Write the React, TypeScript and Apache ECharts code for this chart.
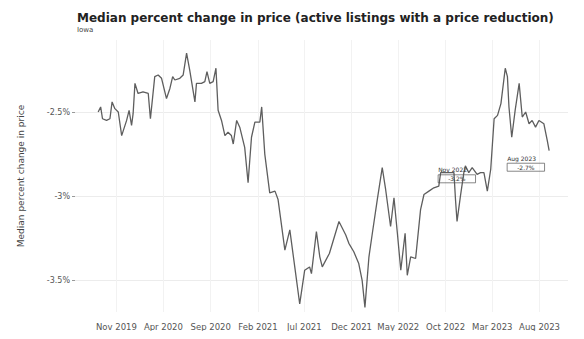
import React, { useEffect, useRef } from "react";
import * as echarts from "echarts";

const titleText = "Median percent change in price (active listings with a price reduction)";
const subtitleText = "Iowa";
const yAxisName = "Median percent change in price";

const dates = [
  "2019-09-03","2019-09-11","2019-09-17","2019-09-30","2019-10-11","2019-10-18","2019-10-27","2019-11-07",
  "2019-11-18","2019-12-04","2019-12-12","2019-12-20","2019-12-25","2019-12-31","2020-01-10","2020-01-26",
  "2020-02-12","2020-02-19","2020-03-04","2020-03-15","2020-03-26","2020-04-11","2020-04-22","2020-05-01",
  "2020-05-08","2020-05-24","2020-06-04","2020-06-15","2020-06-25","2020-07-12","2020-07-17","2020-08-02",
  "2020-08-13","2020-08-20","2020-08-29","2020-09-09","2020-09-18","2020-09-25","2020-10-06","2020-10-17",
  "2020-10-27","2020-11-07","2020-11-13","2020-11-24","2020-12-04","2020-12-20","2020-12-31","2021-01-11",
  "2021-01-22","2021-02-07","2021-02-13","2021-02-23","2021-03-11","2021-03-28","2021-04-07","2021-04-29",
  "2021-05-15","2021-05-31","2021-06-16","2021-07-02","2021-07-18","2021-07-24","2021-08-09","2021-08-20",
  "2021-08-28","2021-09-20","2021-10-21","2021-11-12","2021-11-22","2021-12-08","2021-12-24","2022-01-04",
  "2022-01-13","2022-01-26","2022-02-06","2022-02-22","2022-03-10","2022-03-21","2022-04-06","2022-04-17",
  "2022-04-28","2022-05-09","2022-05-23","2022-05-30","2022-06-10","2022-06-26","2022-07-12","2022-07-23",
  "2022-08-08","2022-08-24","2022-09-09","2022-09-15","2022-10-01","2022-10-17","2022-10-28","2022-11-02",
  "2022-11-07","2022-11-18","2022-11-29","2022-12-04","2022-12-15","2022-12-26","2023-01-11","2023-01-22",
  "2023-02-02","2023-02-13","2023-02-24","2023-03-07","2023-03-18","2023-03-29","2023-04-12","2023-04-19",
  "2023-04-24","2023-05-03","2023-05-14","2023-05-27","2023-06-06","2023-06-17","2023-06-28","2023-07-08",
  "2023-07-19","2023-07-30","2023-08-15","2023-08-26","2023-09-01"
];

const values = [
  -2.50,-2.47,-2.54,-2.55,-2.54,-2.44,-2.48,-2.50,
  -2.64,-2.55,-2.49,-2.58,-2.51,-2.33,-2.39,-2.38,
  -2.39,-2.54,-2.29,-2.28,-2.30,-2.42,-2.36,-2.29,
  -2.31,-2.30,-2.28,-2.15,-2.25,-2.44,-2.33,-2.33,
  -2.32,-2.26,-2.33,-2.32,-2.24,-2.49,-2.55,-2.64,
  -2.62,-2.64,-2.69,-2.55,-2.59,-2.71,-2.92,-2.65,
  -2.56,-2.56,-2.47,-2.75,-2.98,-2.97,-3.02,-3.32,
  -3.20,-3.42,-3.64,-3.44,-3.42,-3.46,-3.21,-3.36,
  -3.42,-3.34,-3.15,-3.23,-3.28,-3.33,-3.40,-3.50,
  -3.66,-3.36,-3.22,-3.02,-2.83,-2.96,-3.18,-3.01,
  -3.22,-3.44,-3.22,-3.47,-3.36,-3.37,-3.08,-2.99,
  -2.97,-2.95,-2.94,-2.86,-2.86,-2.86,-2.86,-3.02,
  -3.15,-3.00,-2.86,-2.82,-2.86,-2.83,-2.87,-2.86,
  -2.86,-2.97,-2.84,-2.54,-2.52,-2.45,-2.24,-2.29,
  -2.47,-2.65,-2.49,-2.33,-2.53,-2.50,-2.57,-2.55,
  -2.59,-2.55,-2.57,-2.67,-2.73
];

const xTickDates = [
  "2019-11-01","2020-04-01","2020-09-01","2021-02-01","2021-07-01",
  "2021-12-01","2022-05-01","2022-10-01","2023-03-01","2023-08-01"
];
const yTickValues = [-3.5, -3, -2.5];

const annotationDates = ["2023-01-11", "2023-09-01"];
const annotationValues = [-2.87, -2.73];
const annotationTitles = ["Nov 2022", "Aug 2023"];
const annotationLabels = ["-3.2%", "-2.7%"];

const monthNames = ["Jan","Feb","Mar","Apr","May","Jun","Jul","Aug","Sep","Oct","Nov","Dec"];

function toTs(s: string): number {
  const [y, m, d] = s.split("-").map(Number);
  return new Date(y, m - 1, d).getTime();
}

export default function App() {
  const ref = useRef<HTMLDivElement>(null);
  useEffect(() => {
    if (!ref.current) return;
    const chart = echarts.init(ref.current, undefined, { renderer: "svg" });
    const data = dates.map((d, i) => [toTs(d), values[i]]);
    const xTicks = xTickDates.map(toTs);
    const labelOffsets = [[-39, -9], [-42, 3]];
    chart.setOption({
      animation: false,
      backgroundColor: "#ffffff",
      title: {
        text: titleText,
        subtext: subtitleText,
        left: 72,
        top: 7,
        itemGap: 2,
        textStyle: { fontFamily: "DejaVu Sans", fontSize: 12, fontWeight: "bold", color: "#222" },
        subtextStyle: { fontFamily: "DejaVu Sans", fontSize: 7, color: "#444" },
      },
      grid: { left: 75, right: 16, top: 40, bottom: 27 },
      xAxis: {
        type: "value",
        min: toTs("2019-06-20"),
        max: toTs("2023-11-01"),
        axisLine: { show: false },
        axisTick: { show: false, customValues: xTicks },
        axisLabel: {
          customValues: xTicks,
          fontFamily: "DejaVu Sans",
          fontSize: 8.5,
          color: "#555",
          margin: 10,
          formatter: (v: number) => {
            const d = new Date(v);
            return monthNames[d.getMonth()] + " " + d.getFullYear();
          },
        },
        splitLine: { show: true, lineStyle: { color: "#f2f2f2", width: 1 } },
      },
      yAxis: {
        type: "value",
        min: -3.6877,
        max: -2.0724,
        name: yAxisName,
        nameLocation: "middle",
        nameGap: 50,
        nameTextStyle: { fontFamily: "DejaVu Sans", fontSize: 9, color: "#444" },
        axisLine: { show: false },
        axisTick: { show: true, length: 3, customValues: yTickValues, lineStyle: { color: "#999" } },
        axisLabel: {
          customValues: yTickValues,
          fontFamily: "DejaVu Sans",
          fontSize: 8,
          color: "#555",
          margin: 5,
          formatter: (v: number) => v + "%",
        },
        splitLine: { show: true, lineStyle: { color: "#ececec", width: 1 } },
      },
      series: [
        {
          type: "line",
          data,
          showSymbol: false,
          symbol: "none",
          lineStyle: { color: "#5e5e5e", width: 1.3 },
          markPoint: {
            symbol: "circle",
            symbolSize: 0,
            data: annotationDates.map((d, i) => ({
              coord: [toTs(d), annotationValues[i]],
              label: {
                show: true,
                position: labelOffsets[i],
                align: "left",
                formatter: "{a|" + annotationTitles[i] + "}\n{b|" + annotationLabels[i] + "}",
                rich: {
                  a: { fontSize: 6, color: "#333", fontFamily: "DejaVu Sans", lineHeight: 9 },
                  b: {
                    fontSize: 6,
                    color: "#333",
                    fontFamily: "DejaVu Sans",
                    borderColor: "#555",
                    borderWidth: 0.7,
                    padding: [1, 10, 1, 10],
                    lineHeight: 9,
                  },
                },
              },
            })),
          },
        },
      ],
    });
    return () => chart.dispose();
  }, []);
  return <div ref={ref} style={{ width: 584, height: 339, margin: -8 }} />;
}
